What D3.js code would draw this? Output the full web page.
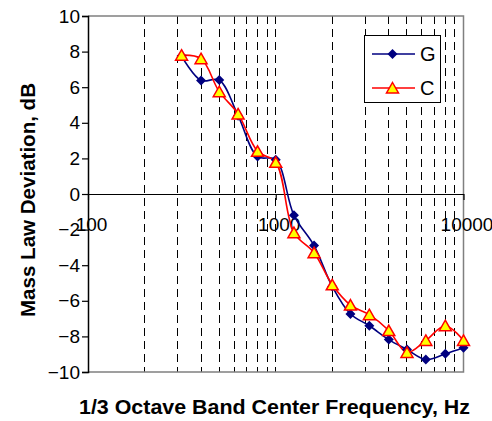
<!DOCTYPE html>
<html><head><meta charset="utf-8">
<script src="https://cdn.jsdelivr.net/npm/d3@7"></script>
<style>body{margin:0;background:#fff} svg{display:block}</style>
</head><body><svg id="c" width="492" height="421"></svg>
<script>
const freqs=[315,400,500,630,800,1000,1250,1600,2000,2500,3150,4000,5000,6300,8000,10000];
const seriesG=[7.75,6.38,6.4,4.4,2.1,1.93,-1.2,-2.9,-5.2,-6.74,-7.4,-8.18,-8.74,-9.3,-8.98,-8.64];
const seriesC=[7.8,7.6,5.75,4.5,2.4,1.78,-2.17,-3.3,-5.1,-6.24,-6.78,-7.67,-8.9,-8.23,-7.4,-8.23];
const yTicks=[-10,-8,-6,-4,-2,0,2,4,6,8,10];
const xTicks=[100,1000,10000];
const gridFreqs=[200,300,400,500,600,700,800,900,1000,2000,3000,4000,5000,6000,7000,8000,9000];
const seriesNames=["G","C"];

const FONT="'Liberation Sans', Arial, sans-serif";
const svg=d3.select("#c");
const L=88,R=463.5,T=16,B=372;
const x=d3.scaleLog().domain([100,10000]).range([L,R]);
const y=d3.scaleLinear().domain([-10,10]).range([B,T]);

// gridlines
svg.append("g").selectAll("line").data(gridFreqs).join("line")
  .attr("x1",d=>x(d)).attr("x2",d=>x(d)).attr("y1",T).attr("y2",B)
  .attr("stroke","#000").attr("stroke-width",1).attr("stroke-dasharray","8,5")
  .attr("shape-rendering","crispEdges");

// frame top/right/bottom
svg.append("path").attr("d",`M${L},${T}H${R}V${B}H${L}`).attr("fill","none")
  .attr("stroke","#808080").attr("stroke-width",1.5);

// y axis
const yAxis=d3.axisLeft(y).tickValues(yTicks).tickSize(6).tickPadding(2).tickFormat(d3.format("d"));
const gy=svg.append("g").attr("transform",`translate(${L},0)`).call(yAxis);
gy.select(".domain").attr("stroke","#000").attr("stroke-width",1.5);
gy.selectAll(".tick line").attr("stroke","#000").attr("stroke-width",1.2);
gy.selectAll(".tick text").attr("font-family",FONT).attr("font-size",19).attr("fill","#000");

// x axis at y=0
const xAxis=d3.axisBottom(x).tickValues(xTicks).tickSize(6).tickSizeOuter(0).tickPadding(18).tickFormat(d3.format("d"));
const gx=svg.append("g").attr("transform",`translate(0,${y(0)})`).call(xAxis);
gx.select(".domain").attr("stroke","#000").attr("stroke-width",1.2);
gx.selectAll(".tick line").attr("stroke","#000").attr("stroke-width",1.2);
gx.selectAll(".tick text").attr("font-family",FONT).attr("font-size",19).attr("fill","#000").attr("dx",3);

// lines
const line=d3.line().x((d,i)=>x(freqs[i])).y(d=>y(d)).curve(d3.curveCatmullRom.alpha(0.5));
const colors={G:"#000080",C:"#ff0000"};
const diamond=(cx,cy)=>`M${cx},${cy-5}L${cx+5},${cy}L${cx},${cy+5}L${cx-5},${cy}Z`;
const tri=(cx,cy)=>`M${cx},${cy-5.5}L${cx+6},${cy+5}L${cx-6},${cy+5}Z`;

svg.append("path").datum(seriesG).attr("d",line).attr("fill","none").attr("stroke",colors.G).attr("stroke-width",1.6);
svg.append("path").datum(seriesC).attr("d",line).attr("fill","none").attr("stroke",colors.C).attr("stroke-width",1.6);
svg.append("g").selectAll("path").data(seriesG).join("path")
  .attr("d",(d,i)=>diamond(x(freqs[i]),y(d))).attr("fill",colors.G);
svg.append("g").selectAll("path").data(seriesC).join("path")
  .attr("d",(d,i)=>tri(x(freqs[i]),y(d))).attr("fill","#ffff00").attr("stroke",colors.C).attr("stroke-width",1.5);

// legend
const lg=svg.append("g");
lg.append("rect").attr("x",364.5).attr("y",35.5).attr("width",76).attr("height",67)
  .attr("fill","#fff").attr("stroke","#000").attr("stroke-width",1);
const rows=[{n:"G",yy:54},{n:"C",yy:88}];
rows.forEach(r=>{
  lg.append("line").attr("x1",372).attr("x2",415).attr("y1",r.yy).attr("y2",r.yy).attr("stroke",colors[r.n]).attr("stroke-width",1.6);
  lg.append("path").attr("d",r.n==="G"?diamond(392.5,r.yy):tri(392.5,r.yy))
    .attr("fill",r.n==="G"?colors.G:"#ffff00").attr("stroke",r.n==="G"?"none":colors.C).attr("stroke-width",1.5);
  lg.append("text").attr("x",420).attr("y",r.yy+7).text(r.n)
    .attr("font-family",FONT).attr("font-size",20).attr("fill","#000");
});

// titles
svg.append("text").attr("x",274.5).attr("y",413.5).attr("text-anchor","middle")
  .attr("font-family",FONT).attr("font-size",20).attr("font-weight","bold")
  .attr("textLength",391).attr("lengthAdjust","spacingAndGlyphs")
  .text("1/3 Octave Band Center Frequency, Hz");
svg.append("text").attr("transform","translate(35,200) rotate(-90)").attr("text-anchor","middle")
  .attr("font-family",FONT).attr("font-size",20).attr("font-weight","bold")
  .attr("textLength",234).attr("lengthAdjust","spacingAndGlyphs")
  .text("Mass Law Deviation, dB");
</script></body></html>
